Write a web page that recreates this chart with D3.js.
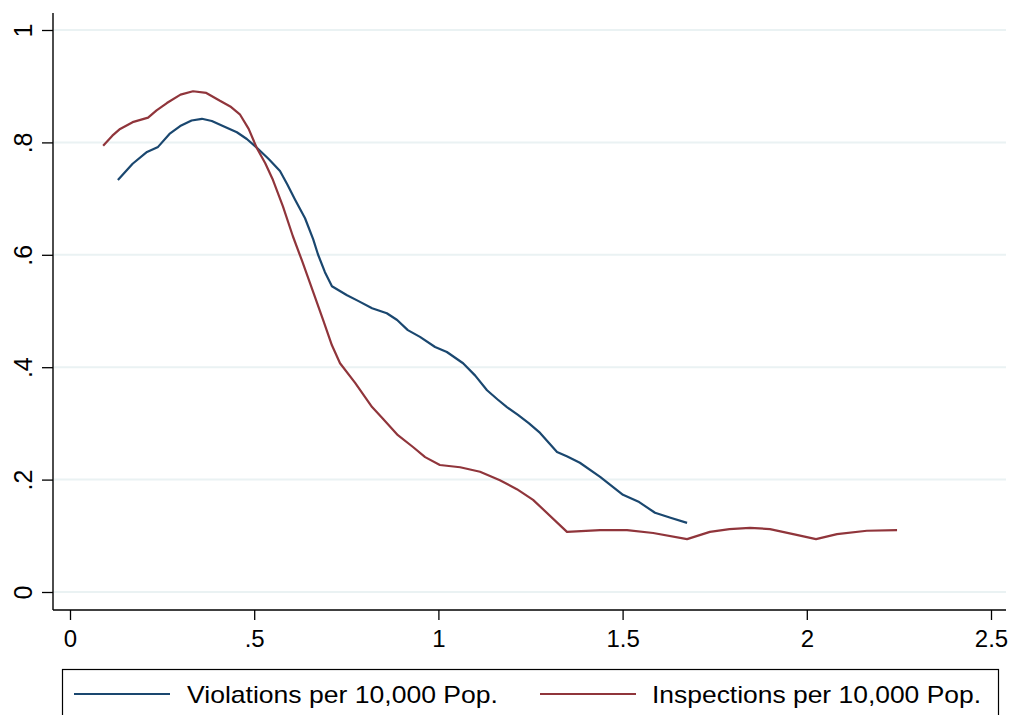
<!DOCTYPE html>
<html>
<head>
<meta charset="utf-8">
<script src="https://cdn.jsdelivr.net/npm/d3@7"></script>
<style>
  html, body { margin: 0; padding: 0; background: #ffffff; }
  svg { display: block; font-family: "Liberation Sans", Arial, Helvetica, sans-serif; }
</style>
</head>
<body>
<svg id="chart" width="1013" height="715"></svg>
<script>
// Smoothed share curves against per-capita rates
const violationsX = [0.130, 0.170, 0.209, 0.239, 0.270, 0.299, 0.330, 0.358, 0.385, 0.415,
  0.453, 0.480, 0.508, 0.540, 0.570, 0.590, 0.611, 0.638, 0.660, 0.673, 0.692, 0.711,
  0.752, 0.782, 0.820, 0.860, 0.888, 0.917, 0.950, 0.991, 1.023, 1.067, 1.100, 1.132,
  1.160, 1.186, 1.216, 1.246, 1.276, 1.322, 1.350, 1.384, 1.439, 1.501, 1.545, 1.588,
  1.630, 1.675];
const violationsY = [0.733, 0.762, 0.783, 0.792, 0.815, 0.829, 0.839, 0.842, 0.838, 0.829,
  0.818, 0.806, 0.790, 0.770, 0.749, 0.725, 0.698, 0.665, 0.628, 0.601, 0.569, 0.544,
  0.528, 0.518, 0.505, 0.496, 0.484, 0.466, 0.454, 0.436, 0.427, 0.407, 0.385, 0.359,
  0.343, 0.329, 0.315, 0.300, 0.283, 0.249, 0.241, 0.230, 0.205, 0.173, 0.160, 0.141,
  0.132, 0.123];

const inspectionsX = [0.090, 0.115, 0.136, 0.170, 0.212, 0.235, 0.263, 0.300, 0.334, 0.370,
  0.407, 0.435, 0.461, 0.485, 0.507, 0.530, 0.551, 0.578, 0.605, 0.630, 0.660, 0.687,
  0.711, 0.733, 0.774, 0.820, 0.847, 0.890, 0.931, 0.964, 1.004, 1.059, 1.113, 1.167,
  1.213, 1.257, 1.349, 1.439, 1.512, 1.583, 1.675, 1.737, 1.790, 1.846, 1.900, 1.963,
  2.025, 2.082, 2.163, 2.245];
const inspectionsY = [0.794, 0.812, 0.824, 0.836, 0.844, 0.857, 0.870, 0.885, 0.891, 0.888,
  0.874, 0.864, 0.850, 0.824, 0.790, 0.763, 0.733, 0.686, 0.633, 0.589, 0.534, 0.484,
  0.439, 0.407, 0.372, 0.329, 0.310, 0.279, 0.258, 0.240, 0.226, 0.222, 0.214, 0.199,
  0.183, 0.164, 0.107, 0.110, 0.110, 0.105, 0.094, 0.107, 0.112, 0.114, 0.112, 0.103,
  0.094, 0.103, 0.109, 0.110];

const xTicks = [0, 0.5, 1, 1.5, 2, 2.5];
const xTickLabels = ["0", ".5", "1", "1.5", "2", "2.5"];
const yTicks = [0, 0.2, 0.4, 0.6, 0.8, 1];
const yTickLabels = ["0", ".2", ".4", ".6", ".8", "1"];

const seriesNames = ["Violations per 10,000 Pop.", "Inspections per 10,000 Pop."];
const seriesColors = ["#1a476f", "#90353b"];

const svg = d3.select("#chart");

// Plot region frame
const plotLeft = 53, plotRight = 1006, plotTop = 10, plotBottom = 610;

const x = d3.scaleLinear().domain([0, 2.5]).range([70, 991]);
const y = d3.scaleLinear().domain([0, 1]).range([592, 30]);

// Horizontal grid lines
svg.append("g")
  .selectAll("line")
  .data(yTicks)
  .join("line")
  .attr("x1", plotLeft + 1).attr("x2", plotRight)
  .attr("y1", d => y(d)).attr("y2", d => y(d))
  .attr("stroke", "#eaf2f3")
  .attr("stroke-width", 2);

// Y axis
const yAxis = d3.axisLeft(y)
  .tickValues(yTicks)
  .tickFormat((d, i) => yTickLabels[i])
  .tickSize(11)
  .tickSizeOuter(0);
const gy = svg.append("g").attr("transform", `translate(${plotLeft},0)`).call(yAxis);
gy.select(".domain").remove();
gy.selectAll(".tick line").attr("stroke", "#000").attr("stroke-width", 1.3);
gy.selectAll(".tick text")
  .attr("x", null).attr("dy", null)
  .attr("transform", "translate(-21,0) rotate(-90)")
  .attr("text-anchor", "middle")
  .attr("font-size", 25)
  .attr("fill", "#000");
svg.append("line")
  .attr("x1", plotLeft).attr("x2", plotLeft)
  .attr("y1", plotTop + 3).attr("y2", plotBottom)
  .attr("stroke", "#000").attr("stroke-width", 1.4);

// X axis
const xAxis = d3.axisBottom(x)
  .tickValues(xTicks)
  .tickFormat((d, i) => xTickLabels[i])
  .tickSize(10)
  .tickSizeOuter(0);
const gx = svg.append("g").attr("transform", `translate(0,${plotBottom})`).call(xAxis);
gx.select(".domain").remove();
gx.selectAll(".tick line").attr("stroke", "#000").attr("stroke-width", 1.3);
gx.selectAll(".tick text")
  .attr("y", 37).attr("dy", null)
  .attr("font-size", 24)
  .attr("fill", "#000");
svg.append("line")
  .attr("x1", plotLeft).attr("x2", plotRight)
  .attr("y1", plotBottom).attr("y2", plotBottom)
  .attr("stroke", "#000").attr("stroke-width", 1.4);

// Curves
const line = d3.line()
  .x(d => x(d[0]))
  .y(d => y(d[1]));

const series = [
  d3.zip(violationsX, violationsY),
  d3.zip(inspectionsX, inspectionsY)
];

svg.append("g")
  .selectAll("path")
  .data(series)
  .join("path")
  .attr("d", line)
  .attr("fill", "none")
  .attr("stroke", (d, i) => seriesColors[i])
  .attr("stroke-width", 2.2)
  .attr("stroke-linejoin", "round");

// Legend
const legend = svg.append("g");
legend.append("rect")
  .attr("x", 62.5).attr("y", 669.5)
  .attr("width", 936).attr("height", 60)
  .attr("fill", "#fff")
  .attr("stroke", "#000").attr("stroke-width", 1.2);

const legendItems = [
  { x1: 74, x2: 170, tx: 187, tl: 311 },
  { x1: 540, x2: 636, tx: 652, tl: 329 }
];
legendItems.forEach((it, i) => {
  legend.append("line")
    .attr("x1", it.x1).attr("x2", it.x2)
    .attr("y1", 694).attr("y2", 694)
    .attr("stroke", seriesColors[i])
    .attr("stroke-width", 2.2);
  legend.append("text")
    .attr("x", it.tx).attr("y", 703)
    .attr("font-size", 24)
    .attr("textLength", it.tl)
    .attr("lengthAdjust", "spacingAndGlyphs")
    .attr("fill", "#000")
    .text(seriesNames[i]);
});
</script>
</body>
</html>
